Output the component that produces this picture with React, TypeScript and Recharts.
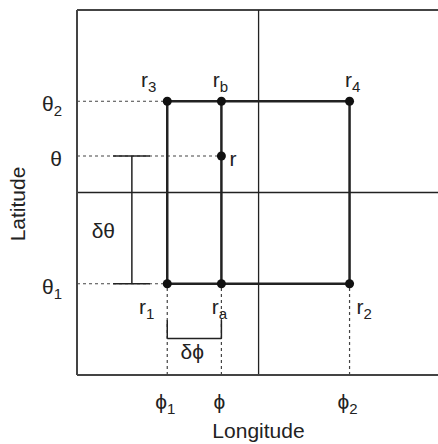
import React from "react";
import { ComposedChart, XAxis, YAxis, ReferenceLine, ReferenceDot, Scatter } from "recharts";

// both axes run 0..1, positions
const lonTicks = [0.25, 0.4, 0.755];
const lonTickLabels = ["ϕ1", "ϕ", "ϕ2"];
const latTicks = [0.25, 0.6, 0.75];
const latTickLabels = ["θ1", "θ", "θ2"];
const gridLon = 0.503;
const gridLat = 0.5;

const cornerNames = ["r1", "ra", "r2", "r3", "rb", "r4", "r"];
const cornerLon = [0.25, 0.4, 0.755, 0.25, 0.4, 0.755, 0.4];
const cornerLat = [0.25, 0.25, 0.25, 0.75, 0.75, 0.75, 0.6];

// the two bracket markers
const dThetaLon = 0.152;
const dThetaTickLon = [0.1, 0.202];
const dPhiLat = 0.1;
const dPhiTickLat = 0.15;

const FONT = "'Liberation Sans', Arial, sans-serif";
const INK = "#222";

const corners = cornerNames.map((name, i) => ({ name, x: cornerLon[i], y: cornerLat[i] }));
const pt = (name: string) => corners.find((c) => c.name === name)!;

// label offsets from the dot, px
const labelOffsets: Record<string, [number, number, "start" | "middle" | "end"]> = {
  r3: [-11, -14, "end"],
  rb: [-1, -14, "middle"],
  r4: [3, -14, "middle"],
  r: [8, 10, "start"],
  r1: [-13, 30, "end"],
  ra: [-2, 30, "middle"],
  r2: [7, 30, "start"],
};

function SubText({ x, y, anchor, text }: { x: number; y: number; anchor: any; text: string }) {
  const main = text.slice(0, 1);
  const sub = text.slice(1);
  return (
    <text x={x} y={y} textAnchor={anchor} fontSize={21} fill={INK} fontFamily={FONT}>
      {main}
      {sub && (
        <tspan dy={5} fontSize={15}>
          {sub}
        </tspan>
      )}
    </text>
  );
}

const Corner = (props: any) => {
  const { cx, cy, payload } = props;
  const [dx, dy, anchor] = labelOffsets[payload.name];
  return (
    <g>
      <circle cx={cx} cy={cy} r={4.5} fill="#111" />
      <SubText x={cx + dx} y={cy + dy} anchor={anchor} text={payload.name} />
    </g>
  );
};

const LonTick = (props: any) => {
  const { x, y, payload } = props;
  const label = lonTickLabels[lonTicks.indexOf(payload.value)];
  return <SubText x={x - 2} y={y + 34} anchor="middle" text={label} />;
};

const LatTick = (props: any) => {
  const { x, y, payload } = props;
  const label = latTickLabels[latTicks.indexOf(payload.value)];
  return <SubText x={x - 15} y={y + 10} anchor="end" text={label} />;
};

const LongitudeTitle = (props: any) => {
  const vb = props.viewBox;
  return (
    <text x={vb.x + vb.width / 2 + 1} y={vb.y + 63} textAnchor="middle" fontSize={21} fill={INK} fontFamily={FONT}>
      Longitude
    </text>
  );
};

const LatitudeTitle = (props: any) => {
  const vb = props.viewBox;
  const cx = vb.x + 25;
  const cy = vb.y + vb.height / 2 + 11.5;
  return (
    <text x={cx} y={cy} transform={`rotate(-90, ${cx}, ${cy})`} textAnchor="middle" fontSize={21} fill={INK} fontFamily={FONT}>
      Latitude
    </text>
  );
};

const DeltaLabel = (props: any) => {
  const vb = props.viewBox;
  return (
    <text x={vb.x + props.dx} y={vb.y + props.dy} textAnchor="middle" fontSize={21} fill={INK} fontFamily={FONT}>
      {props.text}
    </text>
  );
};

const seg = (a: { x: number; y: number }, b: { x: number; y: number }) => [
  { x: a.x, y: a.y },
  { x: b.x, y: b.y },
];

export default function App() {
  const dotted = [
    seg({ x: 0, y: pt("r3").y }, pt("r3")),
    seg({ x: 0, y: pt("r").y }, pt("r")),
    seg({ x: 0, y: pt("r1").y }, pt("r1")),
    seg({ x: pt("r1").x, y: 0 }, pt("r1")),
    seg({ x: pt("ra").x, y: 0 }, pt("ra")),
    seg({ x: pt("r2").x, y: 0 }, pt("r2")),
  ];
  const edges = [
    seg(pt("r1"), pt("r2")),
    seg(pt("r3"), pt("r4")),
    seg(pt("r1"), pt("r3")),
    seg(pt("r2"), pt("r4")),
    seg(pt("ra"), pt("rb")),
  ];
  const brackets = [
    seg({ x: dThetaLon, y: pt("r").y }, { x: dThetaLon, y: pt("r1").y }),
    seg({ x: dThetaTickLon[0], y: pt("r").y }, { x: dThetaTickLon[1], y: pt("r").y }),
    seg({ x: dThetaTickLon[0], y: pt("r1").y }, { x: dThetaTickLon[1], y: pt("r1").y }),
    seg({ x: pt("r1").x, y: dPhiLat }, { x: pt("ra").x, y: dPhiLat }),
    seg({ x: pt("r1").x, y: dPhiLat }, { x: pt("r1").x, y: dPhiTickLat }),
    seg({ x: pt("ra").x, y: dPhiLat }, { x: pt("ra").x, y: dPhiTickLat }),
  ];

  return (
    <div style={{ position: "absolute", left: 0, top: 0, background: "#fff" }}>
      <ComposedChart width={438} height={444} margin={{ top: 10, right: 0, bottom: 0, left: 0 }}>
        <XAxis
          dataKey="x"
          type="number"
          domain={[0, 1]}
          allowDataOverflow
          ticks={lonTicks}
          tick={<LonTick />}
          tickLine={false}
          tickSize={0}
          tickMargin={0}
          height={69}
          axisLine={{ stroke: "#444", strokeWidth: 2 }}
          label={<LongitudeTitle />}
        />
        <YAxis
          dataKey="y"
          type="number"
          domain={[0, 1]}
          allowDataOverflow
          ticks={latTicks}
          tick={<LatTick />}
          tickLine={false}
          tickSize={0}
          tickMargin={0}
          width={77}
          axisLine={{ stroke: "#444", strokeWidth: 2 }}
          label={<LatitudeTitle />}
        />
        <ReferenceLine y={1} stroke="#444" strokeWidth={2} />
        {dotted.map((s, i) => (
          <ReferenceLine key={"d" + i} segment={s} stroke="#444" strokeWidth={1.2} strokeDasharray="3 3" />
        ))}
        <ReferenceLine x={gridLon} stroke="#222" strokeWidth={1.3} />
        <ReferenceLine y={gridLat} stroke="#222" strokeWidth={1.3} />
        {brackets.map((s, i) => (
          <ReferenceLine key={"b" + i} segment={s} stroke="#222" strokeWidth={1.5} />
        ))}
        {edges.map((s, i) => (
          <ReferenceLine key={"e" + i} segment={s} stroke="#222" strokeWidth={2.5} />
        ))}
        <ReferenceDot
          x={dThetaLon}
          y={(pt("r").y + pt("r1").y) / 2}
          r={0}
          fill="none"
          stroke="none"
          label={<DeltaLabel text="δθ" dx={-28.5} dy={18} />}
        />
        <ReferenceDot
          x={(pt("r1").x + pt("ra").x) / 2}
          y={dPhiLat}
          r={0}
          fill="none"
          stroke="none"
          label={<DeltaLabel text="δϕ" dx={-2} dy={20.5} />}
        />
        <Scatter data={corners} dataKey="y" shape={<Corner />} isAnimationActive={false} />
      </ComposedChart>
    </div>
  );
}
